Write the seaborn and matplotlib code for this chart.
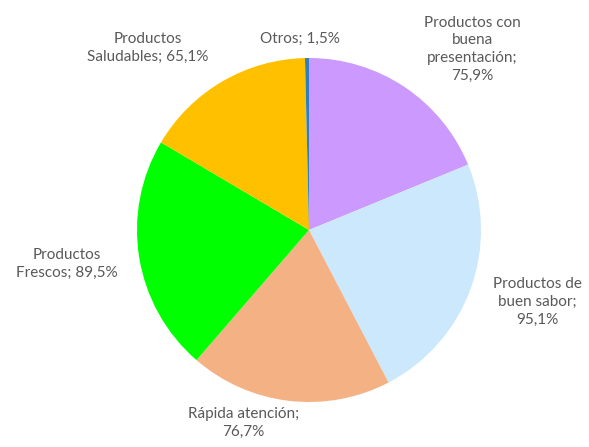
import matplotlib
matplotlib.use("Agg")
import matplotlib.pyplot as plt
import seaborn as sns

sns.set_theme(style="white")
plt.rcParams["font.family"] = ["Lato", "DejaVu Sans"]

# Motivos de preferencia (porcentaje de encuestados)
categorias = [
    "Productos con\nbuena\npresentación",
    "Productos de\nbuen sabor",
    "Rápida atención",
    "Productos\nFrescos",
    "Productos\nSaludables",
    "Otros",
]
valores = [75.9, 95.1, 76.7, 89.5, 65.1, 1.5]
colores = ["#CC99FF", "#CCE8FD", "#F4B183", "#00FF00", "#FFC000", "#2E7FC0"]

# Posición de cada etiqueta (unidades del radio) y si el valor va en línea aparte
pos_etiquetas = [
    (0.95, 1.05),
    (1.33, -0.42),
    (-0.38, -1.12),
    (-1.41, -0.20),
    (-0.94, 1.06),
    (-0.05, 1.11),
]
valor_aparte = [True, True, True, False, False, False]

W, H = 589, 447
fig = plt.figure(figsize=(W / 100, H / 100), dpi=100)
cx, cy, r = 309, 230, 172
ax = fig.add_axes([(cx - r) / W, (H - cy - r) / H, 2 * r / W, 2 * r / H])

ax.pie(valores, colors=colores, startangle=90, counterclock=False,
       radius=1.0, wedgeprops=dict(linewidth=0))
ax.set_xlim(-1, 1)
ax.set_ylim(-1, 1)
ax.set_aspect("auto")
ax.axis("off")

for cat, val, (x, y), aparte in zip(categorias, valores, pos_etiquetas, valor_aparte):
    sep = ";\n" if aparte else "; "
    texto = cat + sep + f"{val:.1f}".replace(".", ",") + "%"
    ax.text(x, y, texto, ha="center", va="center", fontsize=11,
            color="#595959", linespacing=1.35, clip_on=False)

fig.savefig("out.png", dpi=100, facecolor="white")
